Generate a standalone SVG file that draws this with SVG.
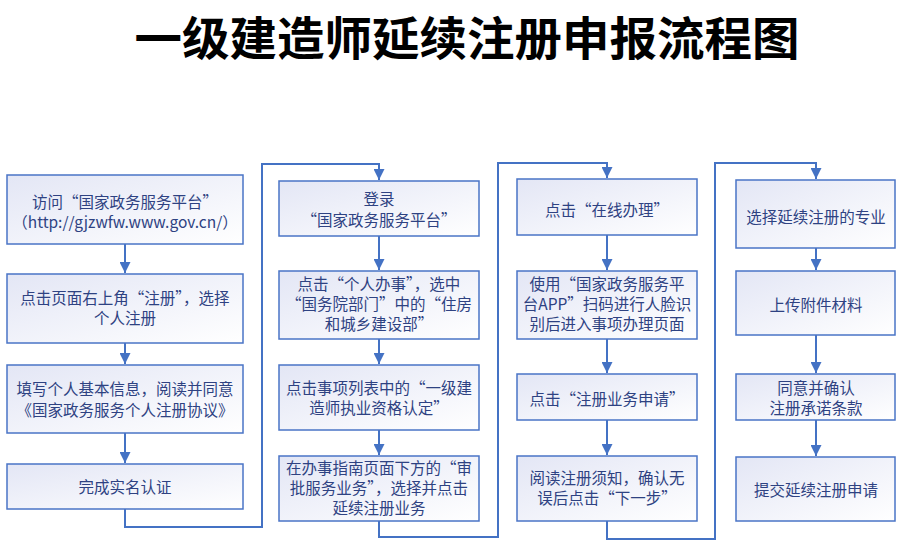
<svg xmlns="http://www.w3.org/2000/svg" width="904" height="553" viewBox="0 0 904 553">
<defs>
<linearGradient id="g" x1="0" y1="0" x2="1" y2="1">
<stop offset="0" stop-color="#e3e6f5"/>
<stop offset="1" stop-color="#ffffff"/>
</linearGradient>
<marker id="ah" markerWidth="12" markerHeight="11" refX="11" refY="5.5" orient="auto" markerUnits="userSpaceOnUse">
<path d="M0,0 L11,5.5 L0,11 Z" fill="#4472c4"/>
</marker>
<style>
.box{fill:url(#g);stroke:#4a74c6;stroke-width:1.5}
.t{font-family:"Noto Sans CJK SC","Noto Sans",sans-serif;font-size:15.5px;fill:#2e4282;text-anchor:middle}
.c{fill:none;stroke:#4472c4;stroke-width:2}
.title{font-family:"Noto Sans CJK SC",sans-serif;font-size:46px;font-weight:bold;fill:#000;text-anchor:middle}
</style>
</defs>
<rect width="904" height="553" fill="#ffffff"/>
<text class="title" x="467" y="55" textLength="665" lengthAdjust="spacingAndGlyphs">一级建造师延续注册申报流程图</text>

<g id="connectors">
<path class="c" d="M125,244 V273" marker-end="url(#ah)"/>
<path class="c" d="M125,343 V364" marker-end="url(#ah)"/>
<path class="c" d="M125,433 V463" marker-end="url(#ah)"/>
<path class="c" d="M125,509 V527 H262 V164 H379 V180" marker-end="url(#ah)"/>
<path class="c" d="M379,236 V270" marker-end="url(#ah)"/>
<path class="c" d="M379,339 V364" marker-end="url(#ah)"/>
<path class="c" d="M379,430 V455" marker-end="url(#ah)"/>
<path class="c" d="M379,521 V537 H498 V163 H607 V178" marker-end="url(#ah)"/>
<path class="c" d="M607,235 V270" marker-end="url(#ah)"/>
<path class="c" d="M607,339 V373" marker-end="url(#ah)"/>
<path class="c" d="M607,420 V455" marker-end="url(#ah)"/>
<path class="c" d="M607,521 V539 H715 V163 H816 V179" marker-end="url(#ah)"/>
<path class="c" d="M816,248 V270" marker-end="url(#ah)"/>
<path class="c" d="M816,335 V373" marker-end="url(#ah)"/>
<path class="c" d="M816,420 V456" marker-end="url(#ah)"/>
</g>

<g id="n1"><rect class="box" x="7" y="175" width="236" height="69"/>
<text class="t" x="125" y="207.5">访问“国家政务服务平台”</text>
<text class="t" x="125" y="228">（http://gjzwfw.www.gov.cn/）</text></g>
<g id="n2"><rect class="box" x="7" y="274" width="236" height="69"/>
<text class="t" x="125" y="303.5">点击页面右上角“注册”，选择</text>
<text class="t" x="125" y="324">个人注册</text></g>
<g id="n3"><rect class="box" x="7" y="365" width="236" height="68"/>
<text class="t" x="125" y="394.5">填写个人基本信息，阅读并同意</text>
<text class="t" x="125" y="415.5">《国家政务服务个人注册协议》</text></g>
<g id="n4"><rect class="box" x="7" y="464" width="236" height="45"/>
<text class="t" x="125" y="492.5">完成实名认证</text></g>

<g id="n5"><rect class="box" x="279" y="181" width="200" height="55"/>
<text class="t" x="379" y="204.5">登录</text>
<text class="t" x="379" y="225.5">“国家政务服务平台”</text></g>
<g id="n6"><rect class="box" x="279" y="271" width="200" height="68"/>
<text class="t" x="379" y="290">点击“个人办事”，选中</text>
<text class="t" x="379" y="310">“国务院部门”中的“住房</text>
<text class="t" x="379" y="330">和城乡建设部”</text></g>
<g id="n7"><rect class="box" x="279" y="365" width="200" height="65"/>
<text class="t" x="379" y="393.5">点击事项列表中的“一级建</text>
<text class="t" x="379" y="413.5">造师执业资格认定”</text></g>
<g id="n8"><rect class="box" x="279" y="456" width="200" height="65"/>
<text class="t" x="379" y="473.5">在办事指南页面下方的“审</text>
<text class="t" x="379" y="493.5">批服务业务”，选择并点击</text>
<text class="t" x="379" y="513.5">延续注册业务</text></g>

<g id="n9"><rect class="box" x="517" y="179" width="180" height="56"/>
<text class="t" x="607" y="215.5">点击“在线办理”</text></g>
<g id="n10"><rect class="box" x="517" y="271" width="180" height="68"/>
<text class="t" x="607" y="290">使用“国家政务服务平</text>
<text class="t" x="607" y="310">台APP”扫码进行人脸识</text>
<text class="t" x="607" y="330">别后进入事项办理页面</text></g>
<g id="n11"><rect class="box" x="517" y="374" width="180" height="46"/>
<text class="t" x="607" y="404.5">点击“注册业务申请”</text></g>
<g id="n12"><rect class="box" x="517" y="456" width="180" height="65"/>
<text class="t" x="607" y="483.5">阅读注册须知，确认无</text>
<text class="t" x="607" y="504">误后点击“下一步”</text></g>

<g id="n13"><rect class="box" x="736" y="180" width="159" height="68"/>
<text class="t" x="816" y="222.5">选择延续注册的专业</text></g>
<g id="n14"><rect class="box" x="736" y="271" width="159" height="64"/>
<text class="t" x="816" y="310.5">上传附件材料</text></g>
<g id="n15"><rect class="box" x="736" y="374" width="159" height="46"/>
<text class="t" x="816" y="393.5">同意并确认</text>
<text class="t" x="816" y="414">注册承诺条款</text></g>
<g id="n16"><rect class="box" x="736" y="457" width="159" height="64"/>
<text class="t" x="816" y="495.5">提交延续注册申请</text></g>
</svg>
